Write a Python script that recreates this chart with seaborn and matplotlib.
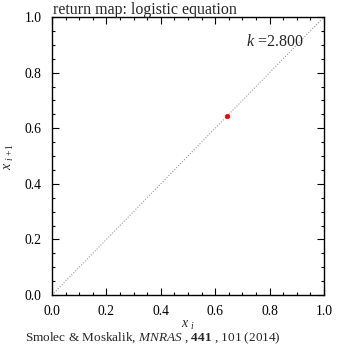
import numpy as np
import pandas as pd
import matplotlib
matplotlib.use("Agg")
import matplotlib.pyplot as plt
import seaborn as sns
from matplotlib.ticker import MultipleLocator

k_value = 2.8
diag_x = [0.0, 1.0]
diag_y = [0.0, 1.0]
point_x = [0.643]
point_y = [0.643]
ticks = [0.0, 0.2, 0.4, 0.6, 0.8, 1.0]
tick_labels = ["0.0", "0.2", "0.4", "0.6", "0.8", "1.0"]

sns.set_theme(style="ticks")
plt.rcParams['font.family'] = ['Liberation Serif', 'DejaVu Serif']
plt.rcParams['mathtext.fontset'] = 'custom'
plt.rcParams['mathtext.rm'] = 'Liberation Serif'
plt.rcParams['mathtext.it'] = 'Liberation Serif:italic'
plt.rcParams['mathtext.bf'] = 'Liberation Serif:bold'

fig = plt.figure(figsize=(3.5, 3.5), dpi=100)
ax = fig.add_axes([52/350, 1 - 295/350, 272/350, 278/350])

diag = pd.DataFrame({"x": diag_x, "y": diag_y})
sns.lineplot(data=diag, x="x", y="y", ax=ax, color="#999999", lw=0.8,
             linestyle=(0, (1, 1.5)))
pts = pd.DataFrame({"x": point_x, "y": point_y})
sns.scatterplot(data=pts, x="x", y="y", ax=ax, color="red", s=10,
                edgecolor="red", linewidth=0.5, zorder=5)

ax.set_xlim(0, 1)
ax.set_ylim(0, 1)
ax.set_xticks(ticks)
ax.set_xticklabels(tick_labels)
ax.set_yticks(ticks)
ax.set_yticklabels(tick_labels)
ax.xaxis.set_minor_locator(MultipleLocator(0.05))
ax.yaxis.set_minor_locator(MultipleLocator(0.05))
ax.tick_params(which="both", direction="in", top=True, right=True,
               labelsize=9.8, colors="black", width=0.8)
ax.tick_params(which="major", length=5, pad=7.5)
ax.tick_params(which="minor", length=2.5)
for s in ax.spines.values():
    s.set_linewidth(1.0)
    s.set_color("black")

ax.set_xlabel(r"$x$ $_{i}$", fontsize=10, labelpad=0)
ax.set_ylabel(r"$x$ $_{i+1}$", fontsize=10, labelpad=6)
ax.text(0.713, 0.91, r"$k$ =2.800", transform=ax.transAxes, fontsize=11.5,
        ha="left", va="center")

fig.text(53/350, 1 - 10/350, "return map: logistic equation",
         fontsize=11.5, ha="left", va="center")
fig.text(25/350, 1 - 338/350,
         r"Smolec & Moskalik, $\mathit{MNRAS}$ , $\mathbf{441}$ , 101 (2014)",
         fontsize=9.5, ha="left", va="center")

fig.savefig("out.png", dpi=100)
